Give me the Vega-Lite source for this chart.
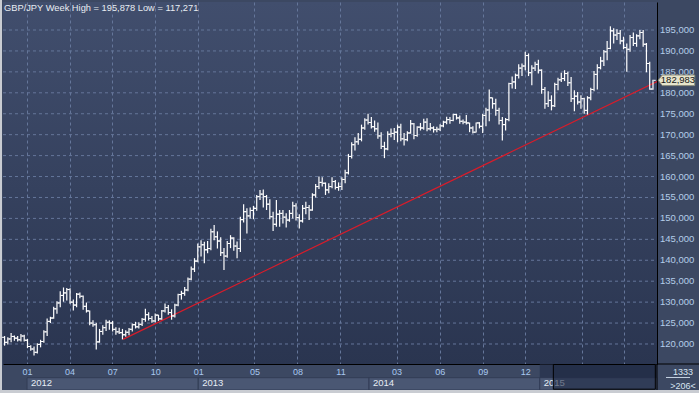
{
"$schema": "https://vega.github.io/schema/vega-lite/v6.json",
"width": 654, "height": 362,
"autosize": {"type": "none"},
"padding": {"left": 3, "top": 2, "right": 42, "bottom": 29},
"background": "#3c4862",
"config": {
  "font": "Liberation Sans",
  "view": {"stroke": null, "fill": {"gradient": "linear", "x1": 0, "y1": 0, "x2": 0, "y2": 1, "stops": [{"offset": 0, "color": "#414e6d"}, {"offset": 1, "color": "#2a3550"}]}}
},
"datasets": {
"bars": [
{"d":"2011-11-14","o":121.6,"h":121.9,"l":119.6,"c":120.4},
{"d":"2011-11-21","o":120.4,"h":121.6,"l":119.9,"c":121.2},
{"d":"2011-11-28","o":121.2,"h":122.6,"l":120.4,"c":121.8},
{"d":"2011-12-05","o":121.8,"h":122.0,"l":120.8,"c":121.4},
{"d":"2011-12-12","o":121.4,"h":121.9,"l":120.6,"c":121.0},
{"d":"2011-12-19","o":121.0,"h":122.4,"l":120.6,"c":121.9},
{"d":"2011-12-26","o":121.9,"h":122.2,"l":120.6,"c":120.9},
{"d":"2012-01-02","o":120.9,"h":121.2,"l":119.0,"c":119.4},
{"d":"2012-01-09","o":119.4,"h":119.7,"l":118.4,"c":118.8},
{"d":"2012-01-16","o":118.8,"h":119.4,"l":117.271,"c":118.0},
{"d":"2012-01-23","o":118.0,"h":120.2,"l":117.7,"c":119.9},
{"d":"2012-01-30","o":119.9,"h":121.0,"l":119.2,"c":120.6},
{"d":"2012-02-06","o":120.6,"h":123.3,"l":120.3,"c":122.9},
{"d":"2012-02-13","o":122.9,"h":126.1,"l":121.9,"c":125.4},
{"d":"2012-02-20","o":125.4,"h":126.5,"l":125.0,"c":126.2},
{"d":"2012-02-27","o":126.2,"h":128.9,"l":126.0,"c":128.4},
{"d":"2012-03-05","o":128.4,"h":130.2,"l":127.2,"c":129.8},
{"d":"2012-03-12","o":129.8,"h":132.6,"l":128.8,"c":131.6},
{"d":"2012-03-19","o":131.6,"h":133.5,"l":130.1,"c":132.2},
{"d":"2012-03-26","o":132.2,"h":133.4,"l":130.4,"c":133.0},
{"d":"2012-04-02","o":133.0,"h":133.3,"l":129.6,"c":130.0},
{"d":"2012-04-09","o":130.0,"h":130.6,"l":128.0,"c":129.3},
{"d":"2012-04-16","o":129.3,"h":132.2,"l":128.8,"c":131.9},
{"d":"2012-04-23","o":131.9,"h":132.3,"l":130.9,"c":131.4},
{"d":"2012-04-30","o":131.4,"h":131.6,"l":128.2,"c":129.0},
{"d":"2012-05-07","o":129.0,"h":129.9,"l":127.5,"c":127.9},
{"d":"2012-05-14","o":127.9,"h":128.0,"l":124.5,"c":125.0},
{"d":"2012-05-21","o":125.0,"h":125.7,"l":124.1,"c":124.6},
{"d":"2012-05-28","o":124.6,"h":125.1,"l":118.7,"c":120.5},
{"d":"2012-06-04","o":120.5,"h":123.6,"l":120.3,"c":123.0},
{"d":"2012-06-11","o":123.0,"h":124.5,"l":122.2,"c":123.9},
{"d":"2012-06-18","o":123.9,"h":125.8,"l":123.1,"c":125.2},
{"d":"2012-06-25","o":125.2,"h":125.7,"l":123.4,"c":125.0},
{"d":"2012-07-02","o":125.0,"h":125.5,"l":123.0,"c":123.5},
{"d":"2012-07-09","o":123.5,"h":124.0,"l":122.2,"c":122.9},
{"d":"2012-07-16","o":122.9,"h":123.9,"l":122.4,"c":122.7},
{"d":"2012-07-23","o":122.7,"h":123.6,"l":121.1,"c":122.2},
{"d":"2012-07-30","o":122.2,"h":123.3,"l":121.7,"c":122.8},
{"d":"2012-08-06","o":122.8,"h":123.8,"l":122.1,"c":123.5},
{"d":"2012-08-13","o":123.5,"h":124.9,"l":123.0,"c":124.6},
{"d":"2012-08-20","o":124.6,"h":125.3,"l":123.7,"c":124.1},
{"d":"2012-08-27","o":124.1,"h":125.2,"l":123.7,"c":124.7},
{"d":"2012-09-03","o":124.7,"h":126.2,"l":124.3,"c":125.9},
{"d":"2012-09-10","o":125.9,"h":128.4,"l":125.3,"c":127.0},
{"d":"2012-09-17","o":127.0,"h":127.6,"l":125.6,"c":126.1},
{"d":"2012-09-24","o":126.1,"h":126.7,"l":125.1,"c":125.5},
{"d":"2012-10-01","o":125.5,"h":127.3,"l":125.2,"c":126.9},
{"d":"2012-10-08","o":126.9,"h":127.0,"l":125.5,"c":126.0},
{"d":"2012-10-15","o":126.0,"h":128.1,"l":125.8,"c":127.9},
{"d":"2012-10-22","o":127.9,"h":129.7,"l":127.5,"c":128.7},
{"d":"2012-10-29","o":128.7,"h":129.3,"l":127.0,"c":127.5},
{"d":"2012-11-05","o":127.5,"h":128.3,"l":125.8,"c":126.7},
{"d":"2012-11-12","o":126.7,"h":129.6,"l":126.3,"c":129.3},
{"d":"2012-11-19","o":129.3,"h":132.0,"l":129.0,"c":131.8},
{"d":"2012-11-26","o":131.8,"h":132.7,"l":130.6,"c":132.1},
{"d":"2012-12-03","o":132.1,"h":133.6,"l":131.5,"c":132.9},
{"d":"2012-12-10","o":132.9,"h":135.9,"l":132.6,"c":135.5},
{"d":"2012-12-17","o":135.5,"h":138.5,"l":135.2,"c":137.9},
{"d":"2012-12-24","o":137.9,"h":140.5,"l":137.2,"c":139.8},
{"d":"2012-12-31","o":139.8,"h":144.0,"l":139.5,"c":143.2},
{"d":"2013-01-07","o":143.2,"h":144.8,"l":140.9,"c":143.7},
{"d":"2013-01-14","o":143.7,"h":144.4,"l":139.3,"c":142.5},
{"d":"2013-01-21","o":142.5,"h":144.6,"l":141.7,"c":142.8},
{"d":"2013-01-28","o":142.8,"h":147.5,"l":142.4,"c":146.8},
{"d":"2013-02-04","o":146.8,"h":148.4,"l":144.8,"c":145.6},
{"d":"2013-02-11","o":145.6,"h":146.9,"l":142.8,"c":144.6},
{"d":"2013-02-18","o":144.6,"h":145.5,"l":141.0,"c":141.8},
{"d":"2013-02-25","o":141.8,"h":142.9,"l":137.7,"c":141.0},
{"d":"2013-03-04","o":141.0,"h":144.6,"l":140.6,"c":144.0},
{"d":"2013-03-11","o":144.0,"h":146.0,"l":142.9,"c":145.3},
{"d":"2013-03-18","o":145.3,"h":145.5,"l":142.3,"c":143.4},
{"d":"2013-03-25","o":143.4,"h":144.5,"l":140.5,"c":142.8},
{"d":"2013-04-01","o":142.8,"h":150.4,"l":142.0,"c":149.7},
{"d":"2013-04-08","o":149.7,"h":153.4,"l":149.0,"c":151.6},
{"d":"2013-04-15","o":151.6,"h":152.4,"l":146.4,"c":150.6},
{"d":"2013-04-22","o":150.6,"h":152.6,"l":150.0,"c":151.9},
{"d":"2013-04-29","o":151.9,"h":153.0,"l":149.8,"c":152.4},
{"d":"2013-05-06","o":152.4,"h":155.6,"l":151.8,"c":155.2},
{"d":"2013-05-13","o":155.2,"h":156.8,"l":154.4,"c":155.8},
{"d":"2013-05-20","o":155.8,"h":156.9,"l":152.6,"c":155.2},
{"d":"2013-05-27","o":155.2,"h":155.6,"l":152.0,"c":153.4},
{"d":"2013-06-03","o":153.4,"h":154.6,"l":149.8,"c":150.4},
{"d":"2013-06-10","o":150.4,"h":151.6,"l":147.0,"c":148.6},
{"d":"2013-06-17","o":148.6,"h":154.4,"l":148.0,"c":151.0},
{"d":"2013-06-24","o":151.0,"h":152.0,"l":148.0,"c":151.2},
{"d":"2013-07-01","o":151.2,"h":152.0,"l":148.8,"c":150.3},
{"d":"2013-07-08","o":150.3,"h":151.2,"l":147.8,"c":149.6},
{"d":"2013-07-15","o":149.6,"h":152.0,"l":149.2,"c":151.2},
{"d":"2013-07-22","o":151.2,"h":154.0,"l":150.0,"c":153.0},
{"d":"2013-07-29","o":153.0,"h":153.6,"l":149.5,"c":150.2},
{"d":"2013-08-05","o":150.2,"h":151.0,"l":147.6,"c":149.4},
{"d":"2013-08-12","o":149.4,"h":153.2,"l":149.0,"c":152.4},
{"d":"2013-08-19","o":152.4,"h":154.0,"l":151.0,"c":152.6},
{"d":"2013-08-26","o":152.6,"h":153.2,"l":149.6,"c":152.0},
{"d":"2013-09-02","o":152.0,"h":156.0,"l":151.8,"c":155.6},
{"d":"2013-09-09","o":155.6,"h":158.2,"l":155.0,"c":157.6},
{"d":"2013-09-16","o":157.6,"h":160.0,"l":157.0,"c":158.6},
{"d":"2013-09-23","o":158.6,"h":159.8,"l":157.6,"c":158.4},
{"d":"2013-09-30","o":158.4,"h":158.6,"l":155.6,"c":156.8},
{"d":"2013-10-07","o":156.8,"h":158.4,"l":156.0,"c":157.6},
{"d":"2013-10-14","o":157.6,"h":159.8,"l":157.2,"c":158.8},
{"d":"2013-10-21","o":158.8,"h":159.2,"l":156.9,"c":157.4},
{"d":"2013-10-28","o":157.4,"h":158.6,"l":156.6,"c":157.6},
{"d":"2013-11-04","o":157.6,"h":159.8,"l":156.8,"c":159.3},
{"d":"2013-11-11","o":159.3,"h":161.6,"l":158.4,"c":160.9},
{"d":"2013-11-18","o":160.9,"h":165.4,"l":160.5,"c":164.8},
{"d":"2013-11-25","o":164.8,"h":168.2,"l":164.3,"c":167.6},
{"d":"2013-12-02","o":167.6,"h":169.4,"l":166.2,"c":168.3},
{"d":"2013-12-09","o":168.3,"h":170.4,"l":167.6,"c":168.9},
{"d":"2013-12-16","o":168.9,"h":172.4,"l":168.4,"c":171.6},
{"d":"2013-12-23","o":171.6,"h":173.9,"l":171.2,"c":173.5},
{"d":"2013-12-30","o":173.5,"h":175.0,"l":172.4,"c":172.9},
{"d":"2014-01-06","o":172.9,"h":174.2,"l":171.5,"c":171.9},
{"d":"2014-01-13","o":171.9,"h":173.4,"l":170.7,"c":171.4},
{"d":"2014-01-20","o":171.4,"h":172.9,"l":169.0,"c":169.7},
{"d":"2014-01-27","o":169.7,"h":170.6,"l":166.6,"c":167.2},
{"d":"2014-02-03","o":167.2,"h":168.3,"l":164.4,"c":166.6},
{"d":"2014-02-10","o":166.6,"h":170.8,"l":166.3,"c":170.1},
{"d":"2014-02-17","o":170.1,"h":171.5,"l":169.4,"c":170.3},
{"d":"2014-02-24","o":170.3,"h":171.6,"l":168.7,"c":170.6},
{"d":"2014-03-03","o":170.6,"h":172.4,"l":168.2,"c":171.8},
{"d":"2014-03-10","o":171.8,"h":172.6,"l":168.4,"c":169.0},
{"d":"2014-03-17","o":169.0,"h":170.4,"l":167.4,"c":168.8},
{"d":"2014-03-24","o":168.8,"h":170.8,"l":168.4,"c":170.4},
{"d":"2014-03-31","o":170.4,"h":173.5,"l":170.2,"c":172.6},
{"d":"2014-04-07","o":172.6,"h":172.8,"l":168.9,"c":169.8},
{"d":"2014-04-14","o":169.8,"h":172.0,"l":169.5,"c":171.8},
{"d":"2014-04-21","o":171.8,"h":172.8,"l":171.0,"c":171.6},
{"d":"2014-04-28","o":171.6,"h":173.8,"l":171.2,"c":173.0},
{"d":"2014-05-05","o":173.0,"h":173.9,"l":170.8,"c":171.4},
{"d":"2014-05-12","o":171.4,"h":172.8,"l":171.0,"c":171.6},
{"d":"2014-05-19","o":171.6,"h":172.0,"l":170.5,"c":171.2},
{"d":"2014-05-26","o":171.2,"h":171.9,"l":170.6,"c":171.3},
{"d":"2014-06-02","o":171.3,"h":172.5,"l":170.9,"c":172.1},
{"d":"2014-06-09","o":172.1,"h":173.3,"l":171.8,"c":173.0},
{"d":"2014-06-16","o":173.0,"h":174.3,"l":172.5,"c":173.6},
{"d":"2014-06-23","o":173.6,"h":174.2,"l":172.6,"c":173.4},
{"d":"2014-06-30","o":173.4,"h":175.0,"l":173.2,"c":174.8},
{"d":"2014-07-07","o":174.8,"h":175.0,"l":173.6,"c":174.0},
{"d":"2014-07-14","o":174.0,"h":174.6,"l":172.6,"c":173.2},
{"d":"2014-07-21","o":173.2,"h":173.6,"l":172.5,"c":173.0},
{"d":"2014-07-28","o":173.0,"h":174.7,"l":172.4,"c":172.8},
{"d":"2014-08-04","o":172.8,"h":172.9,"l":170.6,"c":171.6},
{"d":"2014-08-11","o":171.6,"h":172.0,"l":170.3,"c":170.6},
{"d":"2014-08-18","o":170.6,"h":172.9,"l":170.5,"c":172.8},
{"d":"2014-08-25","o":172.8,"h":173.0,"l":171.5,"c":172.0},
{"d":"2014-09-01","o":172.0,"h":175.0,"l":170.4,"c":174.6},
{"d":"2014-09-08","o":174.6,"h":176.4,"l":172.0,"c":175.9},
{"d":"2014-09-15","o":175.9,"h":180.8,"l":173.2,"c":178.8},
{"d":"2014-09-22","o":178.8,"h":178.9,"l":176.2,"c":177.4},
{"d":"2014-09-29","o":177.4,"h":178.6,"l":174.5,"c":175.8},
{"d":"2014-10-06","o":175.8,"h":176.4,"l":172.4,"c":173.4},
{"d":"2014-10-13","o":173.4,"h":174.2,"l":168.6,"c":172.4},
{"d":"2014-10-20","o":172.4,"h":174.0,"l":171.0,"c":173.6},
{"d":"2014-10-27","o":173.6,"h":182.4,"l":173.2,"c":182.2},
{"d":"2014-11-03","o":182.2,"h":183.9,"l":181.0,"c":182.6},
{"d":"2014-11-10","o":182.6,"h":184.6,"l":180.9,"c":184.2},
{"d":"2014-11-17","o":184.2,"h":186.8,"l":183.4,"c":185.9},
{"d":"2014-11-24","o":185.9,"h":187.0,"l":184.0,"c":186.4},
{"d":"2014-12-01","o":186.4,"h":189.8,"l":185.4,"c":188.9},
{"d":"2014-12-08","o":188.9,"h":189.4,"l":184.0,"c":184.8},
{"d":"2014-12-15","o":184.8,"h":186.6,"l":181.8,"c":185.9},
{"d":"2014-12-22","o":185.9,"h":187.4,"l":185.2,"c":186.8},
{"d":"2014-12-29","o":186.8,"h":187.9,"l":184.6,"c":185.4},
{"d":"2015-01-05","o":185.4,"h":185.6,"l":179.8,"c":180.8},
{"d":"2015-01-12","o":180.8,"h":181.4,"l":176.2,"c":177.4},
{"d":"2015-01-19","o":177.4,"h":180.4,"l":176.6,"c":178.2},
{"d":"2015-01-26","o":178.2,"h":179.4,"l":175.8,"c":176.9},
{"d":"2015-02-02","o":176.9,"h":182.4,"l":176.6,"c":182.0},
{"d":"2015-02-09","o":182.0,"h":183.6,"l":180.6,"c":183.1},
{"d":"2015-02-16","o":183.1,"h":184.8,"l":182.6,"c":183.4},
{"d":"2015-02-23","o":183.4,"h":185.4,"l":182.8,"c":184.6},
{"d":"2015-03-02","o":184.6,"h":185.0,"l":181.6,"c":182.4},
{"d":"2015-03-09","o":182.4,"h":183.8,"l":177.8,"c":178.6},
{"d":"2015-03-16","o":178.6,"h":180.6,"l":175.6,"c":179.2},
{"d":"2015-03-23","o":179.2,"h":180.2,"l":177.2,"c":177.8},
{"d":"2015-03-30","o":177.8,"h":179.4,"l":176.2,"c":178.6},
{"d":"2015-04-06","o":178.6,"h":178.8,"l":175.0,"c":175.8},
{"d":"2015-04-13","o":175.8,"h":179.2,"l":174.8,"c":178.8},
{"d":"2015-04-20","o":178.8,"h":181.2,"l":178.2,"c":180.8},
{"d":"2015-04-27","o":180.8,"h":185.2,"l":180.4,"c":184.4},
{"d":"2015-05-04","o":184.4,"h":186.8,"l":180.8,"c":186.0},
{"d":"2015-05-11","o":186.0,"h":188.6,"l":185.6,"c":187.6},
{"d":"2015-05-18","o":187.6,"h":190.2,"l":186.4,"c":189.8},
{"d":"2015-05-25","o":189.8,"h":192.4,"l":187.8,"c":190.6},
{"d":"2015-06-01","o":190.6,"h":195.878,"l":190.4,"c":194.8},
{"d":"2015-06-08","o":194.8,"h":195.4,"l":191.8,"c":193.8},
{"d":"2015-06-15","o":193.8,"h":195.2,"l":192.6,"c":194.2},
{"d":"2015-06-22","o":194.2,"h":195.0,"l":191.6,"c":192.4},
{"d":"2015-06-29","o":192.4,"h":193.4,"l":190.4,"c":190.8},
{"d":"2015-07-06","o":190.8,"h":191.8,"l":185.0,"c":190.4},
{"d":"2015-07-13","o":190.4,"h":193.8,"l":189.8,"c":193.2},
{"d":"2015-07-20","o":193.2,"h":194.4,"l":191.2,"c":191.8},
{"d":"2015-07-27","o":191.8,"h":194.0,"l":191.0,"c":193.6},
{"d":"2015-08-03","o":193.6,"h":195.0,"l":192.8,"c":194.4},
{"d":"2015-08-10","o":194.4,"h":195.0,"l":191.0,"c":191.6},
{"d":"2015-08-17","o":191.6,"h":191.9,"l":184.9,"c":187.0},
{"d":"2015-08-24","o":187.0,"h":187.4,"l":180.7,"c":180.9},
{"d":"2015-08-31","o":180.9,"h":183.1,"l":180.7,"c":182.983}
],
"trend": [{"d":"2012-07-24","p":121.1},{"d":"2015-09-08T14:00:00Z","p":182.7}],
"years": [
{"yr":"2012","s":"2012-01-01","e":"2013-01-01"},
{"yr":"2013","s":"2013-01-01","e":"2014-01-01"},
{"yr":"2014","s":"2014-01-01","e":"2015-01-01"},
{"yr":"2015","s":"2015-01-01","e":"2015-09-08T14:00:00Z"}
],
"yticks": [
{"v":120,"t":"120,000"},{"v":125,"t":"125,000"},{"v":130,"t":"130,000"},{"v":135,"t":"135,000"},
{"v":140,"t":"140,000"},{"v":145,"t":"145,000"},{"v":150,"t":"150,000"},{"v":155,"t":"155,000"},
{"v":160,"t":"160,000"},{"v":165,"t":"165,000"},{"v":170,"t":"170,000"},{"v":175,"t":"175,000"},
{"v":180,"t":"180,000"},{"v":185,"t":"185,000"},{"v":190,"t":"190,000"},{"v":195,"t":"195,000"}
],
"last": [{"d":"2015-08-31","p":182.983,"t":"182,983"}]
},
"layer": [
{
 "data": {"name": "yticks"},
 "mark": {"type": "rule", "clip": true, "color": "#65769a", "strokeWidth": 1, "strokeDash": [3,3]},
 "encoding": {
  "x": {"datum": {"year":2011,"month":11,"date":10,"hours":16,"utc":true}, "type": "temporal", "title": null,
        "scale": {"type": "utc", "domain": [{"year":2011,"month":11,"date":10,"hours":16,"utc":true},{"year":2015,"month":9,"date":8,"hours":14,"utc":true}]},
        "axis": {"values": [
          {"year":2012,"month":1,"date":1,"utc":true},{"year":2012,"month":4,"date":1,"utc":true},{"year":2012,"month":7,"date":1,"utc":true},{"year":2012,"month":10,"date":1,"utc":true},
          {"year":2013,"month":1,"date":1,"utc":true},{"year":2013,"month":5,"date":1,"utc":true},{"year":2013,"month":8,"date":1,"utc":true},{"year":2013,"month":11,"date":1,"utc":true},
          {"year":2014,"month":3,"date":1,"utc":true},{"year":2014,"month":6,"date":1,"utc":true},{"year":2014,"month":9,"date":1,"utc":true},{"year":2014,"month":12,"date":1,"utc":true},
          {"year":2015,"month":4,"date":1,"utc":true},{"year":2015,"month":7,"date":1,"utc":true}],
          "labelExpr": "utcFormat(datum.value, '%m')",
          "grid": true, "gridColor": "#65769a", "gridDash": [3,3], "gridWidth": 1,
          "ticks": false, "domainColor": "#000000", "domainWidth": 1,
          "labelColor": "#a8c8f0", "labelFontSize": 9, "labelPadding": 3,
          "labelFlush": false, "labelOverlap": false}},
  "x2": {"datum": {"year":2015,"month":9,"date":8,"hours":14,"utc":true}},
  "y": {"field": "v", "type": "quantitative", "title": null,
        "scale": {"domain": [115.22, 201.69], "nice": false, "zero": false},
        "axis": {"orient": "right", "grid": false, "labels": false, "ticks": false, "domainColor": "#000000", "domainWidth": 1}}
 }
},
{
 "data": {"name": "yticks"},
 "mark": {"type": "text", "clip": false, "align": "left", "baseline": "middle", "fontSize": 9.5, "color": "#b4cde9", "xOffset": 3},
 "encoding": {
  "x": {"datum": {"year":2015,"month":9,"date":8,"hours":14,"utc":true}, "type": "temporal", "title": null},
  "y": {"field": "v", "type": "quantitative", "title": null},
  "text": {"field": "t"}
 }
},
{
 "data": {"name": "years"},
 "mark": {"type": "rect", "clip": false, "fill": "#4a5773", "stroke": "#323d56", "strokeWidth": 1},
 "encoding": {
  "x": {"field": "s", "type": "temporal", "title": null},
  "x2": {"field": "e"},
  "y": {"datum": 111.95, "type": "quantitative", "title": null},
  "y2": {"datum": 109.01}
 }
},
{
 "data": {"name": "years"},
 "mark": {"type": "text", "clip": false, "align": "left", "baseline": "middle", "dx": 4, "fontSize": 9.5, "color": "#e6edf5"},
 "encoding": {
  "x": {"field": "s", "type": "temporal", "title": null},
  "y": {"datum": 110.68, "type": "quantitative", "title": null},
  "text": {"field": "yr"}
 }
},
{
 "data": {"values": [{}]},
 "mark": {"type": "rect", "clip": false, "fill": "#2c3752"},
 "encoding": {
  "x": {"datum": {"year":2015,"month":1,"date":1,"utc":true}, "type": "temporal", "title": null},
  "x2": {"datum": {"year":2015,"month":9,"date":8,"hours":14,"utc":true}},
  "y": {"datum": 115.1, "type": "quantitative", "title": null},
  "y2": {"datum": 111.95}
 }
},
{
 "data": {"values": [{}]},
 "mark": {"type": "rect", "clip": false, "fill": "#1f2a44", "fillOpacity": 0.6, "stroke": "#000000", "strokeWidth": 1},
 "encoding": {
  "x": {"datum": {"year":2015,"month":1,"date":30,"utc":true}, "type": "temporal", "title": null},
  "x2": {"datum": {"year":2015,"month":9,"date":5,"utc":true}},
  "y": {"datum": 115.1, "type": "quantitative", "title": null},
  "y2": {"datum": 109.2}
 }
},
{
 "data": {"values": [{}]},
 "mark": {"type": "rule", "clip": false, "color": "#000000", "strokeWidth": 1},
 "encoding": {
  "x": {"datum": {"year":2015,"month":9,"date":8,"hours":14,"utc":true}, "type": "temporal", "title": null},
  "y": {"datum": 115.22, "type": "quantitative", "title": null},
  "y2": {"datum": 109.01}
 }
},
{
 "data": {"values": [{}]},
 "mark": {"type": "rule", "clip": false, "color": "#000000", "strokeWidth": 1, "x2Offset": 42},
 "encoding": {
  "x": {"datum": {"year":2015,"month":9,"date":8,"hours":14,"utc":true}, "type": "temporal", "title": null},
  "x2": {"datum": {"year":2015,"month":9,"date":8,"hours":14,"utc":true}},
  "y": {"datum": 115.22, "type": "quantitative", "title": null}
 }
},
{
 "data": {"values": [{}]},
 "mark": {"type": "rect", "clip": false, "fill": "#c9ccd2", "xOffset": -3, "x2Offset": 42},
 "encoding": {
  "x": {"datum": {"year":2011,"month":11,"date":10,"hours":16,"utc":true}, "type": "temporal", "title": null},
  "x2": {"datum": {"year":2015,"month":9,"date":8,"hours":14,"utc":true}},
  "y": {"datum": 109.01, "type": "quantitative", "title": null},
  "y2": {"datum": 108.2}
 }
},
{
 "data": {"values": [{}]},
 "mark": {"type": "rect", "clip": false, "fill": "#c9ccd2", "xOffset": -3, "x2Offset": -1},
 "encoding": {
  "x": {"datum": {"year":2011,"month":11,"date":10,"hours":16,"utc":true}, "type": "temporal", "title": null},
  "x2": {"datum": {"year":2011,"month":11,"date":10,"hours":16,"utc":true}},
  "y": {"datum": 202.2, "type": "quantitative", "title": null},
  "y2": {"datum": 108.2}
 }
},
{
 "data": {"name": "trend"},
 "mark": {"type": "line", "clip": true, "color": "#d81c2a", "strokeWidth": 1.2},
 "encoding": {
  "x": {"field": "d", "type": "temporal", "title": null},
  "y": {"field": "p", "type": "quantitative", "title": null}
 }
},
{
 "data": {"name": "bars"},
 "mark": {"type": "rule", "color": "#ffffff", "strokeWidth": 1.2},
 "encoding": {
  "x": {"field": "d", "type": "temporal", "title": null},
  "y": {"field": "l", "type": "quantitative", "title": null},
  "y2": {"field": "h"}
 }
},
{
 "data": {"name": "bars"},
 "mark": {"type": "tick", "orient": "horizontal", "color": "#ffffff", "size": 2.2, "thickness": 1, "xOffset": -1.6, "opacity": 1},
 "encoding": {
  "x": {"field": "d", "type": "temporal", "title": null},
  "y": {"field": "o", "type": "quantitative", "title": null}
 }
},
{
 "data": {"name": "bars"},
 "mark": {"type": "tick", "orient": "horizontal", "color": "#ffffff", "size": 2.2, "thickness": 1, "xOffset": 1.6, "opacity": 1},
 "encoding": {
  "x": {"field": "d", "type": "temporal", "title": null},
  "y": {"field": "c", "type": "quantitative", "title": null}
 }
},
{
 "data": {"values": [{"label": "GBP/JPY Week High = 195,878 Low = 117,271"}]},
 "mark": {"type": "text", "clip": false, "align": "left", "baseline": "top", "dx": 1, "dy": 2, "fontSize": 9.3, "color": "#e8ecf2"},
 "encoding": {
  "x": {"datum": {"year":2011,"month":11,"date":10,"hours":16,"utc":true}, "type": "temporal", "title": null},
  "y": {"datum": 201.69, "type": "quantitative", "title": null},
  "text": {"field": "label"}
 }
},
{
 "data": {"name": "last"},
 "mark": {"type": "point", "clip": false, "filled": true, "shape": "M-1,0L-0.78,-0.29L1,-0.29L1,0.29L-0.78,0.29Z", "size": 1330, "fill": "#e6e4cc", "stroke": "#8d8d7c", "strokeWidth": 1, "opacity": 1, "xOffset": 23.5},
 "encoding": {
  "x": {"field": "d", "type": "temporal", "title": null},
  "y": {"field": "p", "type": "quantitative", "title": null}
 }
},
{
 "data": {"name": "last"},
 "mark": {"type": "text", "clip": false, "align": "center", "baseline": "middle", "fontSize": 9.5, "color": "#151515", "xOffset": 25},
 "encoding": {
  "x": {"field": "d", "type": "temporal", "title": null},
  "y": {"field": "p", "type": "quantitative", "title": null},
  "text": {"field": "t"}
 }
},
{
 "data": {"values": [{"t": "1333", "v": 113.31}, {"t": ">206<", "v": 109.97}]},
 "mark": {"type": "text", "clip": false, "align": "center", "baseline": "middle", "fontSize": 9, "color": "#d8e4f2", "xOffset": 26},
 "encoding": {
  "x": {"datum": {"year":2015,"month":9,"date":8,"hours":14,"utc":true}, "type": "temporal", "title": null},
  "y": {"field": "v", "type": "quantitative", "title": null},
  "text": {"field": "t"}
 }
},
{
 "data": {"values": [{}]},
 "mark": {"type": "rule", "clip": false, "color": "#c8d4e4", "strokeWidth": 1, "xOffset": 9, "x2Offset": 33},
 "encoding": {
  "x": {"datum": {"year":2015,"month":9,"date":8,"hours":14,"utc":true}, "type": "temporal", "title": null},
  "x2": {"datum": {"year":2015,"month":9,"date":8,"hours":14,"utc":true}},
  "y": {"datum": 112.0, "type": "quantitative", "title": null}
 }
}
]
}
